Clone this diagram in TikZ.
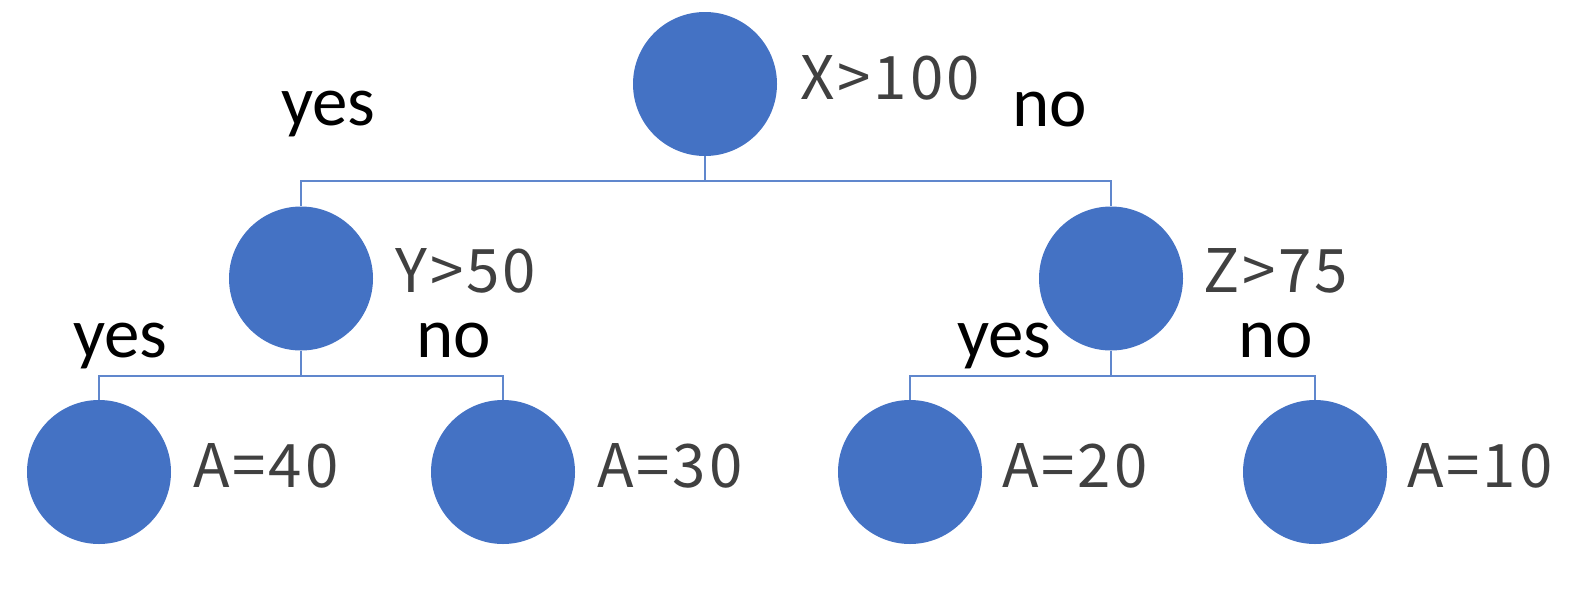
\documentclass[tikz,border=0pt]{standalone}
\usepackage{fontspec}
\setmainfont{Carlito}
\newfontfamily\labfont[LetterSpace=5]{Noto Sans CJK SC}
\definecolor{nodeblue}{HTML}{4472C4}
\begin{document}
\begin{tikzpicture}[x=1pt,y=-1pt,
  treenode/.style={circle,fill=nodeblue,minimum size=144pt,inner sep=0pt},
  link/.style={draw=nodeblue!85,line width=1.8pt},
  cond/.style={font=\labfont\fontsize{60}{60}\selectfont,text=black!75,anchor=base west,inner sep=0pt},
  branch/.style={font=\fontsize{71}{71}\selectfont,text=black,anchor=base west,inner sep=0pt}]
\useasboundingbox (0,0) rectangle (1582,597);
\node[treenode] (root) at (705,84) {};
\node[treenode] (y) at (301,278.5) {};
\node[treenode] (z) at (1111,278.5) {};
\node[treenode] (l1) at (99,472) {};
\node[treenode] (l2) at (503,472) {};
\node[treenode] (l3) at (910,472) {};
\node[treenode] (l4) at (1315,472) {};
\draw[link] (root.south) -- ++(0,25) coordinate (rb);
\draw[link] (rb) -| (y.north);
\draw[link] (rb) -| (z.north);
\draw[link] (y.south) -- ++(0,25.5) coordinate (yb);
\draw[link] (yb) -| (l1.north);
\draw[link] (yb) -| (l2.north);
\draw[link] (z.south) -- ++(0,25.5) coordinate (zb);
\draw[link] (zb) -| (l3.north);
\draw[link] (zb) -| (l4.north);
\node[cond] (tx) at (800,99) {X>100};
\node[cond] (ty) at (395,292) {Y>50};
\node[cond] (tz) at (1203,292) {Z>75};
\node[cond] (t1) at (193,487) {A=40};
\node[cond] (t2) at (597,487) {A=30};
\node[cond] (t3) at (1002,487) {A=20};
\node[cond] (t4) at (1407,487) {A=10};
\node[branch] (b1) at (281,125) {yes};
\node[branch] (b2) at (1012,126) {no};
\node[branch] (b3) at (73,357) {yes};
\node[branch] (b4) at (416,357) {no};
\node[branch] (b5) at (957,357) {yes};
\node[branch] (b6) at (1238,357) {no};
\end{tikzpicture}
\end{document}
